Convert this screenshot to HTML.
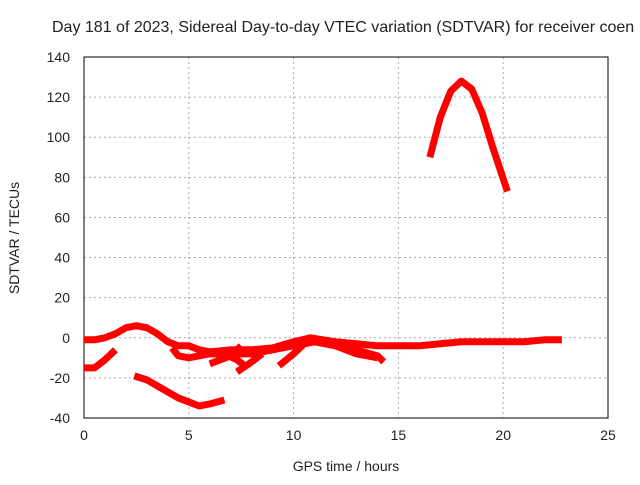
<!DOCTYPE html>
<html><head><meta charset="utf-8"><style>
body{margin:0;background:#fff}
svg text{font-family:"Liberation Sans",sans-serif;font-size:14px;fill:#222}
</style></head><body>
<svg id="c" width="640" height="480"></svg>
<script>
const xTicks=[0,5,10,15,20,25];
const yTicks=[-40,-20,0,20,40,60,80,100,120,140];
const s1x=[0,0.5,1,1.5,2,2.5,3,3.5,4,4.5,5,5.5,6,7,8,9,10,10.8,12,13,14,15,16,17,18,19,20,21,22,22.8];
const s1y=[-1,-1,0,2,5,6,5,2,-2,-4,-4,-6,-7,-6,-6,-5,-2,0,-2,-3,-4,-4,-4,-3,-2,-2,-2,-2,-1,-1];
const s2x=[0,0.5,1,1.5];const s2y=[-15,-15,-11,-6];
const s3x=[2.4,3,3.5,4,4.5,5,5.5,6,6.7];const s3y=[-19,-21,-24,-27,-30,-32,-34,-33,-31];
const s4x=[4.2,4.5,5,5.5,6,7,8,9,10,11,12,13,14,14.3];const s4y=[-5,-9,-10,-9,-8,-8,-8,-6,-4,-2,-4,-6,-9,-12];
const s5x=[6,7,7.5];const s5y=[-13,-9,-4];
const s6x=[6.7,7.3,7.8];const s6y=[-8,-11,-15];
const s7x=[7.3,8,8.5];const s7y=[-17,-12,-8];
const s8x=[9.3,10,10.5];const s8y=[-14,-8,-3];
const s9x=[12,13,14];const s9y=[-4,-8,-10];
const s10x=[16.5,17,17.5,18,18.5,19,19.5,20.2];const s10y=[90,110,123,128,124,112,95,73];
const series=[[s1x,s1y],[s2x,s2y],[s3x,s3y],[s4x,s4y],[s5x,s5y],[s6x,s6y],[s7x,s7y],[s8x,s8y],[s9x,s9y],[s10x,s10y]];
const L=84,R=608,T=57,B=418;
const X=v=>L+(v-0)/25*(R-L);
const Y=v=>B-(v+40)/180*(B-T);
const svg=document.getElementById('c');const NS='http://www.w3.org/2000/svg';
function mk(t,a,p){const e=document.createElementNS(NS,t);for(const k in a)e.setAttribute(k,a[k]);(p||svg).appendChild(e);return e;}
xTicks.forEach(t=>{
 if(t>0&&t<25){const g=mk('line',{x1:X(t),x2:X(t),y1:T,y2:B,stroke:'#aaa','stroke-dasharray':'2,3'});
 
 }
 const tx=mk('text',{x:X(t),y:B+22,'text-anchor':'middle'});tx.textContent=t;
 
 
});
yTicks.forEach(t=>{
 if(t>-40&&t<140){const g=mk('line',{x1:L,x2:R,y1:Y(t),y2:Y(t),stroke:'#aaa','stroke-dasharray':'2,3'});
 
 }
 const tx=mk('text',{x:L-14,y:Y(t)+5,'text-anchor':'end'});tx.textContent=t;
 
 
});
const fr=mk('rect',{x:L,y:T,width:R-L,height:B-T,fill:'none',stroke:'#000'});


series.forEach(s=>{
 const pts=s[0].map((x,i)=>X(x)+','+Y(s[1][i])).join(' ');
 const p=mk('polyline',{points:pts,fill:'none',stroke:'#f00','stroke-width':7,'stroke-linejoin':'round'});
 
 
});
const ti=mk('text',{x:52,y:32,style:'font-size:16px'});ti.textContent='Day 181 of 2023, Sidereal Day-to-day VTEC variation (SDTVAR) for receiver coen';


const xt=mk('text',{x:346,y:471,'text-anchor':'middle'});xt.textContent='GPS time / hours';


const yt=mk('text',{x:0,y:0,'text-anchor':'middle',transform:'translate(19,238) rotate(-90)'});yt.textContent='SDTVAR / TECUs';


</script>
</body></html>
